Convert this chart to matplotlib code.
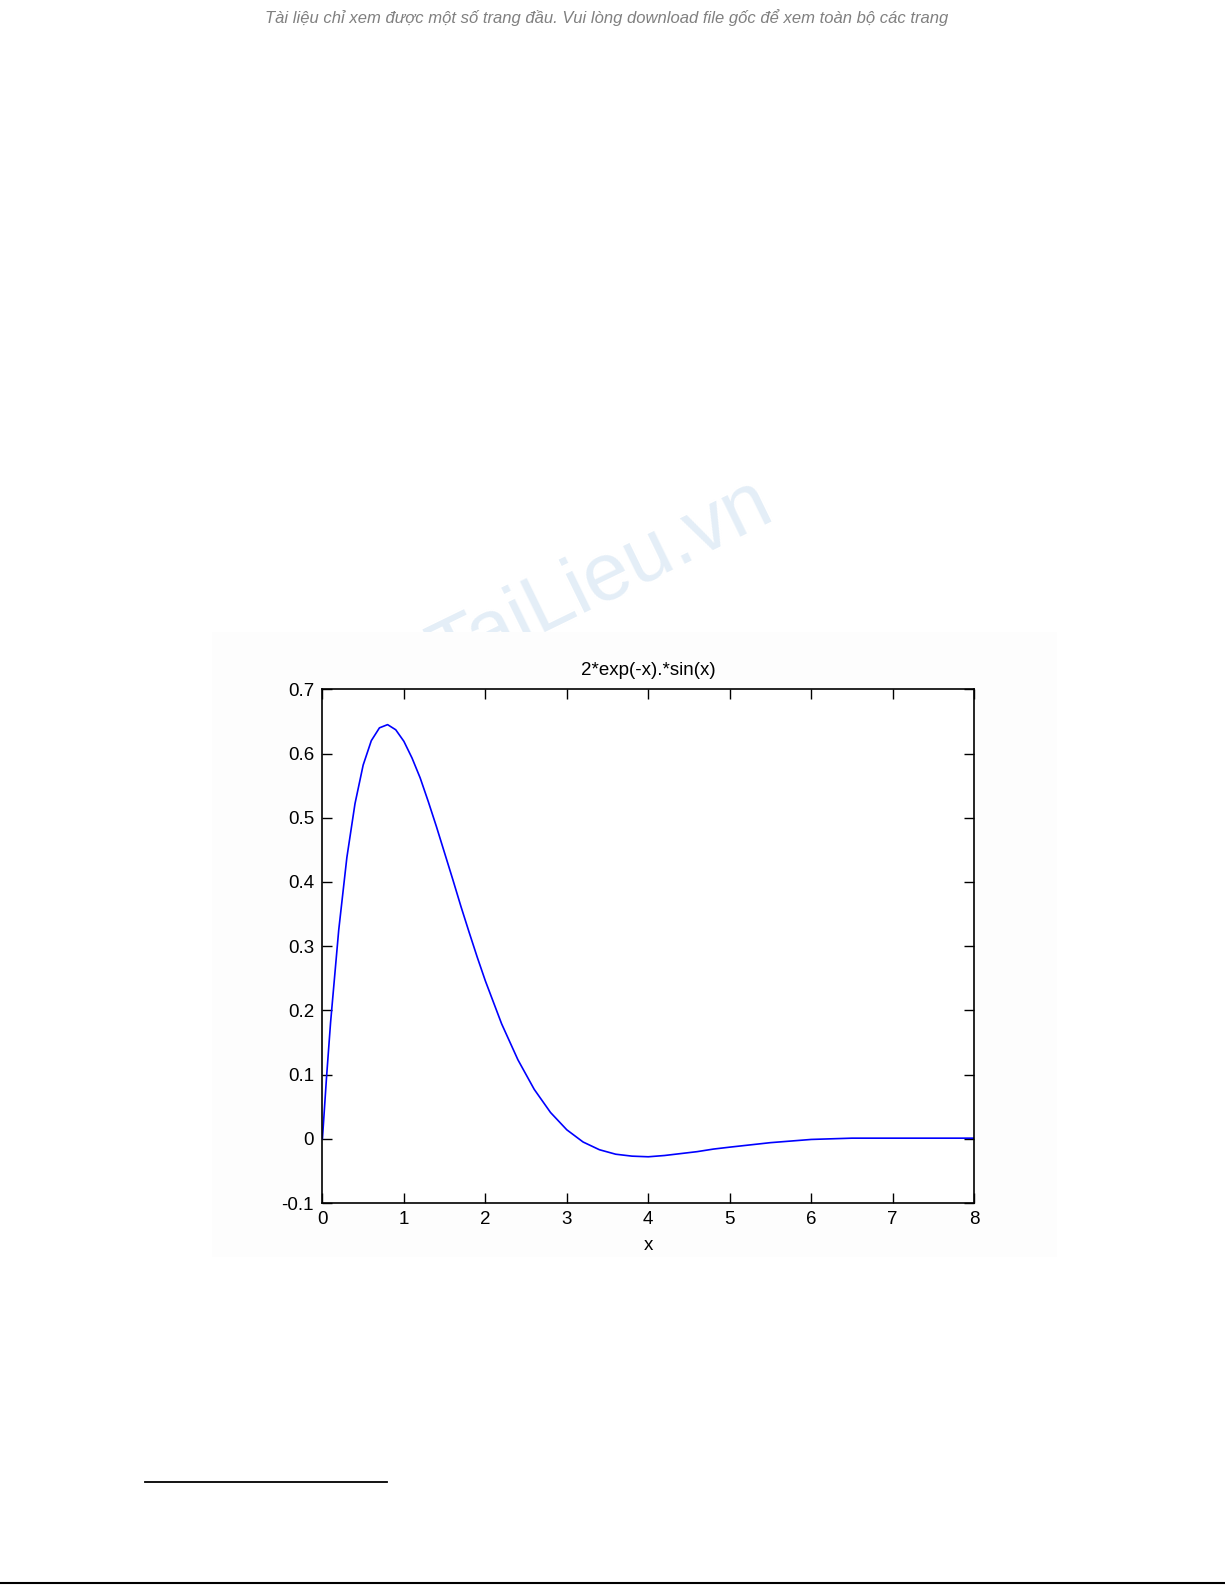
import matplotlib
matplotlib.use('Agg')
from matplotlib import pyplot as plt
from matplotlib.patches import Rectangle
from matplotlib.lines import Line2D

# values
x_vals = [0.0, 0.05, 0.1, 0.2, 0.3, 0.4, 0.5, 0.6, 0.7, 0.8, 0.9, 1.0,
          1.1, 1.2, 1.3, 1.4, 1.5, 1.6, 1.7, 1.8, 1.9, 2.0, 2.2, 2.4,
          2.6, 2.8, 3.0, 3.2, 3.4, 3.6, 3.8, 4.0, 4.2, 4.4, 4.6, 4.8,
          5.0, 5.5, 6.0, 6.5, 7.0, 7.5, 8.0]
y_vals = [0.0, 0.095, 0.181, 0.325, 0.438, 0.522, 0.582, 0.620, 0.640,
          0.645, 0.637, 0.619, 0.593, 0.562, 0.525, 0.486, 0.445, 0.404,
          0.362, 0.322, 0.283, 0.246, 0.179, 0.123, 0.077, 0.041, 0.014,
          -0.005, -0.017, -0.024, -0.027, -0.028, -0.026, -0.023, -0.020,
          -0.016, -0.013, -0.006, -0.001, 0.001, 0.001, 0.001, 0.001]
x_ticks = [0, 1, 2, 3, 4, 5, 6, 7, 8]
y_ticks = [-0.1, 0, 0.1, 0.2, 0.3, 0.4, 0.5, 0.6, 0.7]
y_tick_labels = ['-0.1', '0', '0.1', '0.2', '0.3', '0.4', '0.5', '0.6', '0.7']
chart_title = '2*exp(-x).*sin(x)'
x_label = 'x'
header = ('Tài liệu chỉ xem được một số trang đầu. '
          'Vui lòng download file gốc để xem toàn bộ các trang')

plt.rcParams['font.family'] = ['Liberation Sans', 'DejaVu Sans']

fig = plt.figure(figsize=(12.25, 15.85), dpi=100)

# header note
fig.text(0.4955, 0.989, header, ha='center', va='center', fontsize=12,
         style='italic', color='#808080')

# faint watermark behind the figure image
fig.text(0.491, 0.634, 'TaiLieu.vn', ha='center', va='center', fontsize=59,
         rotation=26, color='#e4eef7', zorder=0)
fig.patches.append(Rectangle((0.173, 0.207), 0.69, 0.394,
                             transform=fig.transFigure, facecolor='#fdfdfd',
                             edgecolor='none', zorder=1))

ax = fig.add_axes([0.2632, 0.2410, 0.532, 0.3241], zorder=2)
ax.plot(x_vals, y_vals, color='#0000ff', lw=1.2)
ax.set_xlim(0, 8)
ax.set_ylim(-0.1, 0.7)
ax.set_xticks(x_ticks)
ax.set_yticks(y_ticks)
ax.set_yticklabels(y_tick_labels)
ax.tick_params(direction='in', length=7, width=1, top=True, right=True,
               labelsize=13.5, pad=6)
for sp in ax.spines.values():
    sp.set_linewidth(1.2)
ax.set_title(chart_title, fontsize=13.5, pad=10)
ax.set_xlabel(x_label, fontsize=13.5, labelpad=6)

# footnote rule and bottom page rule
fig.lines.append(Line2D([0.118, 0.316], [0.0650, 0.0650],
                        transform=fig.transFigure, color='black', lw=1.3))
fig.lines.append(Line2D([0.0, 1.0], [0.0015, 0.0015],
                        transform=fig.transFigure, color='black', lw=1.5))

fig.savefig('out.png', dpi=100)
